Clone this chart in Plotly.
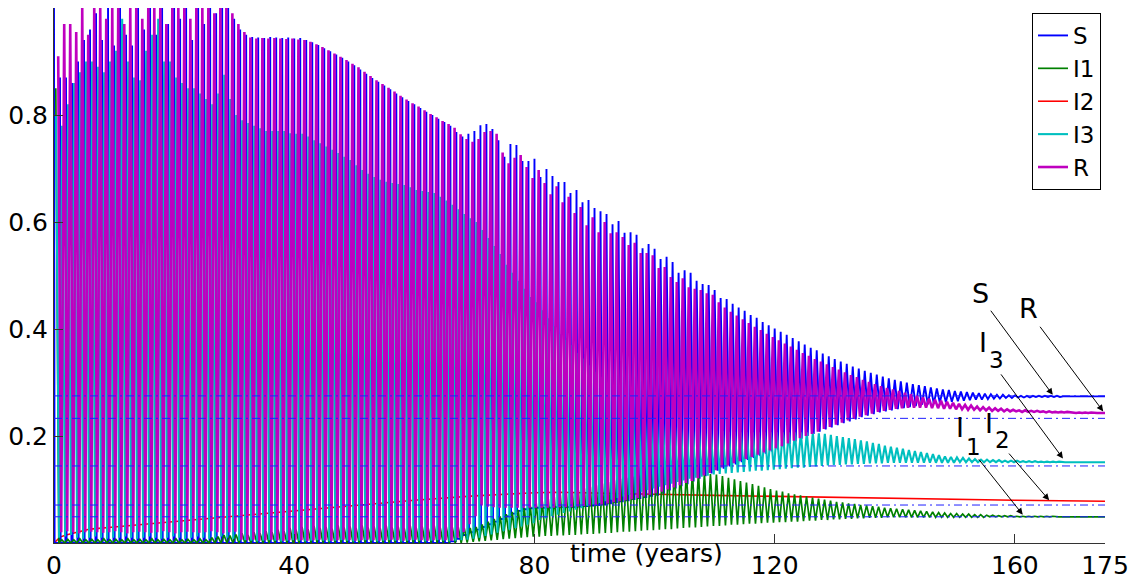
import plotly.graph_objects as go

# ---------------- data ----------------
years = list(range(175))          # one seasonal cycle per year
t_end = 175

s_peaks = [
 1.0, 0.87, 0.87, 0.86, 0.90, 0.94, 0.96, 0.99, 0.94, 1.0,
 0.93, 1.0, 0.95, 0.93, 1.0, 0.96, 1.0, 0.95, 1.0, 0.97,
 1.0, 0.98, 1.0, 0.94, 1.0, 0.97, 1.0, 0.99, 1.0, 1.0,
 0.98, 0.96, 0.95, 0.946, 0.945, 0.944, 0.946, 0.945, 0.944, 0.945,
 0.943, 0.944, 0.94, 0.936, 0.931, 0.925, 0.919, 0.913, 0.907, 0.9,
 0.893, 0.885, 0.877, 0.869, 0.862, 0.855, 0.848, 0.84, 0.833, 0.826,
 0.82, 0.813, 0.806, 0.8, 0.793, 0.787, 0.78, 0.768, 0.76, 0.765,
 0.77, 0.781, 0.783, 0.774, 0.753, 0.722, 0.746, 0.744, 0.714, 0.714,
 0.718, 0.684, 0.699, 0.686, 0.675, 0.675, 0.654, 0.66, 0.637, 0.641,
 0.626, 0.62, 0.615, 0.596, 0.602, 0.58, 0.581, 0.576, 0.551, 0.559,
 0.55, 0.531, 0.535, 0.525, 0.505, 0.51, 0.505, 0.49, 0.484, 0.482,
 0.473, 0.458, 0.456, 0.447, 0.44, 0.434, 0.426, 0.421, 0.413, 0.407,
 0.401, 0.395, 0.389, 0.383, 0.377, 0.371, 0.365, 0.36, 0.354, 0.349,
 0.344, 0.339, 0.335, 0.33, 0.326, 0.322, 0.318, 0.315, 0.311, 0.308,
 0.305, 0.302, 0.3, 0.297, 0.295, 0.293, 0.291, 0.289, 0.287, 0.286,
 0.284, 0.283, 0.282, 0.281, 0.28, 0.279, 0.278, 0.277, 0.277, 0.276,
 0.276, 0.275, 0.275, 0.275, 0.275, 0.275, 0.275, 0.275, 0.274, 0.274,
 0.274, 0.274, 0.274, 0.274, 0.274]
s_troughs = [
 0.0, 0.0, 0.0, 0.0, 0.0, 0.0, 0.0, 0.0, 0.0, 0.0,
 0.0, 0.0, 0.0, 0.0, 0.0, 0.0, 0.0, 0.0, 0.0, 0.0,
 0.0, 0.0, 0.0, 0.0, 0.0, 0.0, 0.0, 0.0, 0.0, 0.0,
 0.0, 0.0, 0.0, 0.0, 0.0, 0.0, 0.0, 0.0, 0.0, 0.0,
 0.0, 0.0, 0.0, 0.0, 0.0, 0.0, 0.0, 0.0, 0.0, 0.0,
 0.0, 0.0, 0.0, 0.0, 0.0, 0.0, 0.0, 0.0, 0.0, 0.0,
 0.0, 0.0, 0.0, 0.0, 0.0, 0.0, 0.003, 0.008, 0.015, 0.02,
 0.025, 0.03, 0.035, 0.04, 0.045, 0.05, 0.055, 0.06, 0.063, 0.065,
 0.066, 0.066, 0.066, 0.067, 0.067, 0.067, 0.067, 0.068, 0.069, 0.07,
 0.071, 0.072, 0.074, 0.076, 0.078, 0.08, 0.082, 0.084, 0.086, 0.088,
 0.09, 0.094, 0.098, 0.102, 0.106, 0.11, 0.115, 0.12, 0.125, 0.13,
 0.135, 0.139, 0.143, 0.147, 0.151, 0.155, 0.159, 0.163, 0.167, 0.171,
 0.175, 0.18, 0.185, 0.19, 0.195, 0.2, 0.204, 0.208, 0.212, 0.216,
 0.22, 0.224, 0.227, 0.231, 0.235, 0.238, 0.241, 0.244, 0.246, 0.248,
 0.25, 0.252, 0.254, 0.256, 0.258, 0.259, 0.26, 0.262, 0.263, 0.264,
 0.265, 0.266, 0.267, 0.268, 0.268, 0.269, 0.27, 0.27, 0.271, 0.271,
 0.272, 0.272, 0.272, 0.273, 0.273, 0.273, 0.273, 0.273, 0.274, 0.274,
 0.274, 0.274, 0.274, 0.274, 0.274]
s_final = 0.274

r_peaks = [
 0.91, 0.97, 0.97, 0.955, 1.0, 0.95, 1.0, 1.0, 0.98, 1.0,
 1.0, 0.97, 1.0, 1.0, 0.98, 1.0, 1.0, 1.0, 0.97, 1.0,
 1.0, 1.0, 0.98, 1.0, 1.0, 1.0, 0.99, 1.0, 1.0, 0.99,
 0.97, 0.955, 0.945, 0.943, 0.944, 0.943, 0.944, 0.943, 0.942, 0.943,
 0.941, 0.94, 0.937, 0.932, 0.927, 0.921, 0.915, 0.909, 0.903, 0.896,
 0.889, 0.881, 0.873, 0.865, 0.858, 0.851, 0.844, 0.836, 0.829, 0.822,
 0.816, 0.809, 0.802, 0.796, 0.789, 0.783, 0.776, 0.764, 0.755, 0.75,
 0.755, 0.768, 0.77, 0.765, 0.73, 0.71, 0.72, 0.725, 0.703, 0.682,
 0.697, 0.673, 0.652, 0.667, 0.637, 0.647, 0.617, 0.628, 0.594, 0.609,
 0.581, 0.6, 0.579, 0.581, 0.572, 0.557, 0.561, 0.542, 0.542, 0.538,
 0.514, 0.516, 0.497, 0.488, 0.495, 0.478, 0.475, 0.473, 0.467, 0.464,
 0.45, 0.44, 0.432, 0.425, 0.418, 0.411, 0.404, 0.398, 0.391, 0.385,
 0.379, 0.373, 0.367, 0.361, 0.355, 0.35, 0.344, 0.339, 0.334, 0.329,
 0.324, 0.319, 0.314, 0.31, 0.305, 0.301, 0.297, 0.293, 0.29, 0.287,
 0.284, 0.281, 0.278, 0.275, 0.272, 0.27, 0.268, 0.266, 0.264, 0.262,
 0.26, 0.258, 0.257, 0.255, 0.254, 0.253, 0.252, 0.251, 0.25, 0.249,
 0.248, 0.248, 0.247, 0.247, 0.246, 0.246, 0.245, 0.245, 0.245, 0.244,
 0.244, 0.244, 0.244, 0.243, 0.243]
r_troughs = [
 0.02, 0.022, 0.02, 0.018, 0.02, 0.021, 0.02, 0.019, 0.02, 0.022,
 0.02, 0.018, 0.02, 0.021, 0.02, 0.019, 0.02, 0.022, 0.02, 0.018,
 0.02, 0.021, 0.02, 0.019, 0.02, 0.022, 0.02, 0.018, 0.02, 0.021,
 0.006, 0.005, 0.006, 0.004, 0.005, 0.006, 0.005, 0.004, 0.005, 0.006,
 0.005, 0.004, 0.005, 0.006, 0.005, 0.004, 0.005, 0.006, 0.005, 0.004,
 0.005, 0.006, 0.005, 0.004, 0.005, 0.006, 0.005, 0.004, 0.005, 0.006,
 0.005, 0.004, 0.005, 0.006, 0.005, 0.004, 0.01, 0.02, 0.035, 0.05,
 0.07, 0.068, 0.067, 0.066, 0.066, 0.066, 0.066, 0.066, 0.066, 0.066,
 0.066, 0.066, 0.066, 0.067, 0.067, 0.067, 0.068, 0.069, 0.07, 0.071,
 0.072, 0.074, 0.076, 0.078, 0.08, 0.082, 0.084, 0.087, 0.09, 0.093,
 0.096, 0.1, 0.104, 0.108, 0.112, 0.116, 0.121, 0.126, 0.131, 0.136,
 0.141, 0.145, 0.149, 0.153, 0.157, 0.161, 0.165, 0.169, 0.173, 0.177,
 0.181, 0.186, 0.191, 0.196, 0.2, 0.204, 0.208, 0.213, 0.217, 0.221,
 0.225, 0.229, 0.232, 0.236, 0.239, 0.242, 0.245, 0.247, 0.249, 0.251,
 0.252, 0.253, 0.253, 0.253, 0.253, 0.252, 0.252, 0.251, 0.251, 0.25,
 0.25, 0.249, 0.249, 0.248, 0.248, 0.247, 0.247, 0.246, 0.246, 0.246,
 0.245, 0.245, 0.245, 0.245, 0.244, 0.244, 0.244, 0.244, 0.244, 0.243,
 0.243, 0.243, 0.243, 0.243, 0.243]
r_final = 0.243

i3_peaks = [
 0.80, 0.78, 0.82, 0.86, 0.88, 0.90, 0.90, 0.89, 0.88, 0.90,
 0.92, 0.98, 0.90, 0.87, 0.865, 0.92, 0.95, 0.98, 0.90, 0.90,
 0.87, 0.86, 0.85, 0.85, 0.84, 0.83, 0.82, 0.84, 0.875, 0.83,
 0.80, 0.79, 0.785, 0.78, 0.775, 0.77, 0.77, 0.77, 0.77, 0.766,
 0.765, 0.765, 0.76, 0.753, 0.747, 0.741, 0.735, 0.729, 0.722, 0.716,
 0.706, 0.697, 0.69, 0.684, 0.679, 0.675, 0.673, 0.671, 0.669, 0.665,
 0.66, 0.658, 0.656, 0.654, 0.647, 0.64, 0.632, 0.624, 0.615, 0.607,
 0.6, 0.585, 0.57, 0.555, 0.54, 0.52, 0.505, 0.49, 0.475, 0.46,
 0.45, 0.435, 0.42, 0.405, 0.39, 0.38, 0.37, 0.355, 0.345, 0.332,
 0.32, 0.31, 0.3, 0.29, 0.28, 0.27, 0.263, 0.256, 0.25, 0.245,
 0.24, 0.236, 0.232, 0.228, 0.224, 0.22, 0.218, 0.216, 0.214, 0.212,
 0.21, 0.209, 0.208, 0.208, 0.207, 0.207, 0.207, 0.207, 0.207, 0.207,
 0.207, 0.207, 0.207, 0.207, 0.207, 0.207, 0.206, 0.205, 0.204, 0.202,
 0.2, 0.198, 0.196, 0.194, 0.192, 0.19, 0.187, 0.185, 0.182, 0.18,
 0.178, 0.176, 0.174, 0.172, 0.17, 0.168, 0.166, 0.164, 0.162, 0.161,
 0.16, 0.159, 0.158, 0.157, 0.156, 0.156, 0.155, 0.155, 0.154, 0.154,
 0.154, 0.153, 0.153, 0.153, 0.152, 0.152, 0.152, 0.152, 0.151, 0.151,
 0.151, 0.151, 0.151, 0.151, 0.151]
i3_troughs = [
 0.01, 0.012, 0.015, 0.01, 0.008, 0.01, 0.012, 0.01, 0.008, 0.01,
 0.01, 0.012, 0.01, 0.008, 0.01, 0.012, 0.01, 0.008, 0.01, 0.012,
 0.01, 0.008, 0.01, 0.012, 0.01, 0.008, 0.01, 0.012, 0.01, 0.008,
 0.004, 0.005, 0.004, 0.003, 0.004, 0.005, 0.004, 0.003, 0.004, 0.005,
 0.004, 0.003, 0.004, 0.005, 0.004, 0.003, 0.004, 0.005, 0.004, 0.003,
 0.004, 0.005, 0.004, 0.003, 0.004, 0.005, 0.004, 0.003, 0.004, 0.005,
 0.004, 0.003, 0.004, 0.005, 0.004, 0.003, 0.004, 0.005, 0.006, 0.008,
 0.01, 0.013, 0.016, 0.019, 0.022, 0.025, 0.028, 0.031, 0.034, 0.037,
 0.043, 0.046, 0.05, 0.053, 0.056, 0.059, 0.062, 0.065, 0.069, 0.072,
 0.075, 0.078, 0.081, 0.084, 0.087, 0.09, 0.093, 0.096, 0.099, 0.102,
 0.105, 0.108, 0.111, 0.114, 0.117, 0.12, 0.122, 0.124, 0.126, 0.128,
 0.129, 0.13, 0.131, 0.132, 0.133, 0.134, 0.135, 0.135, 0.136, 0.137,
 0.138, 0.139, 0.14, 0.141, 0.141, 0.142, 0.143, 0.144, 0.145, 0.146,
 0.146, 0.147, 0.147, 0.148, 0.148, 0.149, 0.149, 0.149, 0.15, 0.15,
 0.15, 0.15, 0.15, 0.15, 0.15, 0.15, 0.15, 0.15, 0.15, 0.15,
 0.151, 0.151, 0.151, 0.151, 0.151, 0.151, 0.151, 0.151, 0.151, 0.151,
 0.151, 0.151, 0.151, 0.151, 0.151, 0.151, 0.151, 0.151, 0.151, 0.151,
 0.151, 0.151, 0.151, 0.151, 0.151]
i3_final = 0.151

i1_peaks = [
 0.85, 0.006, 0.007, 0.006, 0.008, 0.006, 0.007, 0.006, 0.008, 0.006,
 0.007, 0.006, 0.008, 0.006, 0.007, 0.006, 0.008, 0.006, 0.007, 0.006,
 0.008, 0.006, 0.007, 0.006, 0.008, 0.006, 0.01, 0.012, 0.015, 0.014,
 0.016, 0.018, 0.015, 0.02, 0.018, 0.022, 0.02, 0.025, 0.022, 0.028,
 0.025, 0.03, 0.026, 0.032, 0.028, 0.03, 0.027, 0.033, 0.029, 0.031,
 0.028, 0.033, 0.029, 0.031, 0.028, 0.033, 0.029, 0.031, 0.028, 0.033,
 0.029, 0.031, 0.028, 0.033, 0.029, 0.031, 0.03, 0.03, 0.028, 0.028,
 0.03, 0.035, 0.04, 0.045, 0.05, 0.054, 0.058, 0.062, 0.066, 0.07,
 0.074, 0.078, 0.082, 0.086, 0.09, 0.093, 0.096, 0.099, 0.102, 0.105,
 0.108, 0.111, 0.114, 0.117, 0.12, 0.122, 0.124, 0.126, 0.128, 0.129,
 0.13, 0.131, 0.132, 0.133, 0.133, 0.133, 0.132, 0.131, 0.13, 0.129,
 0.128, 0.125, 0.122, 0.119, 0.116, 0.113, 0.11, 0.107, 0.104, 0.101,
 0.098, 0.096, 0.093, 0.091, 0.089, 0.087, 0.085, 0.083, 0.081, 0.079,
 0.077, 0.076, 0.074, 0.073, 0.071, 0.07, 0.069, 0.068, 0.066, 0.065,
 0.064, 0.063, 0.062, 0.061, 0.06, 0.059, 0.058, 0.057, 0.056, 0.055,
 0.055, 0.054, 0.054, 0.053, 0.053, 0.052, 0.052, 0.051, 0.051, 0.051,
 0.05, 0.05, 0.05, 0.05, 0.05, 0.05, 0.05, 0.049, 0.049, 0.049,
 0.049, 0.049, 0.049, 0.049, 0.049]
i1_troughs = [
 0.0, 0.0, 0.0, 0.0, 0.0, 0.0, 0.0, 0.0, 0.0, 0.0,
 0.0, 0.0, 0.0, 0.0, 0.0, 0.0, 0.0, 0.0, 0.0, 0.0,
 0.0, 0.0, 0.0, 0.0, 0.0, 0.0, 0.0, 0.0, 0.0, 0.0,
 0.0, 0.0, 0.0, 0.0, 0.0, 0.0, 0.0, 0.0, 0.0, 0.0,
 0.0, 0.0, 0.0, 0.0, 0.0, 0.0, 0.0, 0.0, 0.0, 0.0,
 0.0, 0.0, 0.0, 0.0, 0.0, 0.0, 0.0, 0.0, 0.0, 0.0,
 0.0, 0.0, 0.0, 0.0, 0.0, 0.0, 0.0, 0.0, 0.001, 0.002,
 0.003, 0.004, 0.005, 0.006, 0.007, 0.008, 0.009, 0.01, 0.011, 0.012,
 0.012, 0.013, 0.013, 0.014, 0.014, 0.015, 0.015, 0.016, 0.017, 0.017,
 0.018, 0.019, 0.019, 0.02, 0.021, 0.021, 0.022, 0.023, 0.024, 0.024,
 0.025, 0.026, 0.026, 0.027, 0.028, 0.029, 0.029, 0.03, 0.031, 0.032,
 0.032, 0.033, 0.034, 0.034, 0.035, 0.036, 0.036, 0.037, 0.038, 0.038,
 0.039, 0.039, 0.04, 0.04, 0.041, 0.042, 0.042, 0.043, 0.043, 0.044,
 0.044, 0.045, 0.045, 0.046, 0.046, 0.047, 0.047, 0.047, 0.048, 0.048,
 0.048, 0.048, 0.048, 0.048, 0.048, 0.048, 0.048, 0.048, 0.048, 0.048,
 0.048, 0.048, 0.048, 0.048, 0.048, 0.049, 0.049, 0.049, 0.049, 0.049,
 0.049, 0.049, 0.049, 0.049, 0.049, 0.049, 0.049, 0.049, 0.049, 0.049,
 0.049, 0.049, 0.049, 0.049, 0.049]
i1_final = 0.049

# I2 has no visible seasonal oscillation: sampled values along its curve
i2_t = [0, 1, 2, 3, 4, 5, 6, 10, 20, 30, 40, 50, 60, 70, 80,
        84, 90, 100, 110, 120, 130, 140, 150, 160, 175]
i2_vals = [0.0, 0.011, 0.015, 0.018, 0.021, 0.024, 0.026, 0.03, 0.04, 0.05,
           0.06, 0.07, 0.08, 0.088, 0.094,
           0.095, 0.093, 0.091, 0.089, 0.087, 0.085, 0.083, 0.081, 0.08, 0.078]

# equilibrium levels (dash-dot guide lines)
equilibria = [0.275, 0.233, 0.144, 0.071, 0.049]

x_ticks = [0, 40, 80, 120, 160, 175]
y_ticks = [0.2, 0.4, 0.6, 0.8]
y_tick_text = ["0.2", "0.4", "0.6", "0.8"]

# ---------------- styles ----------------
FONT = "DejaVu Sans, Liberation Sans, Arial, sans-serif"
C_S, C_I1, C_I2, C_I3, C_R = "#0000ff", "#008000", "#ff0000", "#00bfbf", "#bf00bf"
# per series: peak phase within the year, spike half-width (years) in the
# irregular regime, years over which the spike widens to a plain zigzag,
# line width
STYLE = {
    "S":  dict(phase=0.0,  hw_early=0.1, ramp=(84, 104), lw=1.9),
    "I1": dict(phase=0.3,  hw_early=0.5, ramp=(0, 1),    lw=1.7),
    "I3": dict(phase=0.35, hw_early=0.5, ramp=(0, 1),    lw=2.1),
    "R":  dict(phase=0.7,  hw_early=0.5, ramp=(0, 1),    lw=2.6),
}


def spike_halfwidth(st, k):
    a, b = st["ramp"]
    if k <= a:
        return st["hw_early"]
    if k >= b:
        return 0.5
    return st["hw_early"] + (0.5 - st["hw_early"]) * (k - a) / (b - a)


def cycle_series(peaks, troughs, final, key):
    st = STYLE[key]
    xs, ys = [], []
    for k, p, tr in zip(years, peaks, troughs):
        hw = spike_halfwidth(st, k)
        c = k + st["phase"]
        if hw < 0.5:
            xs += [c, c + hw, c + 1 - hw]
            ys += [p, tr, tr]
        else:
            xs += [c, c + 0.5]
            ys += [p, tr]
    xs.append(t_end)
    ys.append(final)
    return xs, ys


fig = go.Figure()
# I2 is drawn first so the oscillating series cover it (as in the reference);
# legendrank keeps the legend order S, I1, I2, I3, R.
fig.add_trace(go.Scatter(x=i2_t, y=i2_vals, mode="lines", name="I2",
                         legendrank=3, line=dict(color=C_I2, width=1.6)))

for rank, (name, key, pk, tr, fin, col) in zip([1, 2, 4, 5], [
    ("S", "S", s_peaks, s_troughs, s_final, C_S),
    ("I1", "I1", i1_peaks, i1_troughs, i1_final, C_I1),
    ("I3", "I3", i3_peaks, i3_troughs, i3_final, C_I3),
    ("R", "R", r_peaks, r_troughs, r_final, C_R),
]):
    xs, ys = cycle_series(pk, tr, fin, key)
    fig.add_trace(go.Scatter(x=xs, y=ys, mode="lines", name=name,
                             legendrank=rank,
                             line=dict(color=col, width=STYLE[key]["lw"])))

for v in equilibria:
    fig.add_shape(type="line", xref="x", yref="y", x0=0, x1=t_end, y0=v, y1=v,
                  line=dict(color="#1f1fff", width=1, dash="8px,4px,2px,4px"),
                  layer="above")

# arrows (tail -> head) and labels
arrows = [
    ((155.8, 0.437), (166.3, 0.277)),   # S
    ((164.0, 0.407), (174.7, 0.246)),   # R
    ((157.5, 0.318), (168.0, 0.158)),   # I3
    ((153.8, 0.159), (161.3, 0.053)),   # I1
    ((158.8, 0.170), (165.7, 0.080)),   # I2
]
for (tx, ty), (hx, hy) in arrows:
    fig.add_annotation(x=hx, y=hy, ax=tx, ay=ty, xref="x", yref="y",
                       axref="x", ayref="y", text="", showarrow=True,
                       arrowhead=2, arrowsize=1.3, arrowwidth=1,
                       arrowcolor="black")

# (text, x, y, size, xanchor)
labels = [
    ("S", 154.2, 0.467, 27, "center"), ("R", 162.3, 0.438, 27, "center"),
    ("I", 155.5, 0.374, 27, "right"), ("3", 155.5, 0.342, 23, "left"),
    ("I", 151.7, 0.215, 27, "right"), ("1", 151.7, 0.179, 23, "left"),
    ("I", 156.6, 0.224, 27, "right"), ("2", 156.6, 0.193, 23, "left"),
]
for txt, lx, ly, fs, xa in labels:
    fig.add_annotation(x=lx, y=ly, xref="x", yref="y", text=txt,
                       xanchor=xa, showarrow=False, borderpad=0,
                       font=dict(family=FONT, size=fs, color="black"))

fig.add_annotation(x=0.564, y=-0.02, xref="paper", yref="paper",
                   text="time (years)", showarrow=False,
                   xanchor="center", yanchor="middle",
                   font=dict(family=FONT, size=25, color="black"))

# the page adds an 8px body margin, so the figure is sized/margined to
# land the axes at the reference's pixel positions
fig.update_layout(
    width=1130, height=573,
    margin=dict(l=46, r=33, t=0, b=38),
    plot_bgcolor="white", paper_bgcolor="white",
    font=dict(family=FONT, size=25, color="black"),
    showlegend=True,
    legend=dict(x=0.9962, y=0.9907, xanchor="right", yanchor="top",
                bordercolor="black", borderwidth=1, bgcolor="white",
                font=dict(family=FONT, size=23), itemwidth=30,
                tracegroupgap=0, traceorder="normal"),
)
fig.update_xaxes(range=[0, t_end], tickmode="array", tickvals=x_ticks,
                 ticks="inside", ticklen=9, tickcolor="#333",
                 showline=True, linecolor="#333", linewidth=1,
                 showgrid=False, zeroline=False, mirror=False,
                 automargin=False)
fig.update_yaxes(range=[0, 1], tickmode="array", tickvals=y_ticks,
                 ticktext=y_tick_text, ticks="inside", ticklen=9,
                 tickcolor="#333", showline=True, linecolor="#333",
                 linewidth=1, showgrid=False, zeroline=False, mirror=False,
                 automargin=False)

fig.write_html("out.html")
